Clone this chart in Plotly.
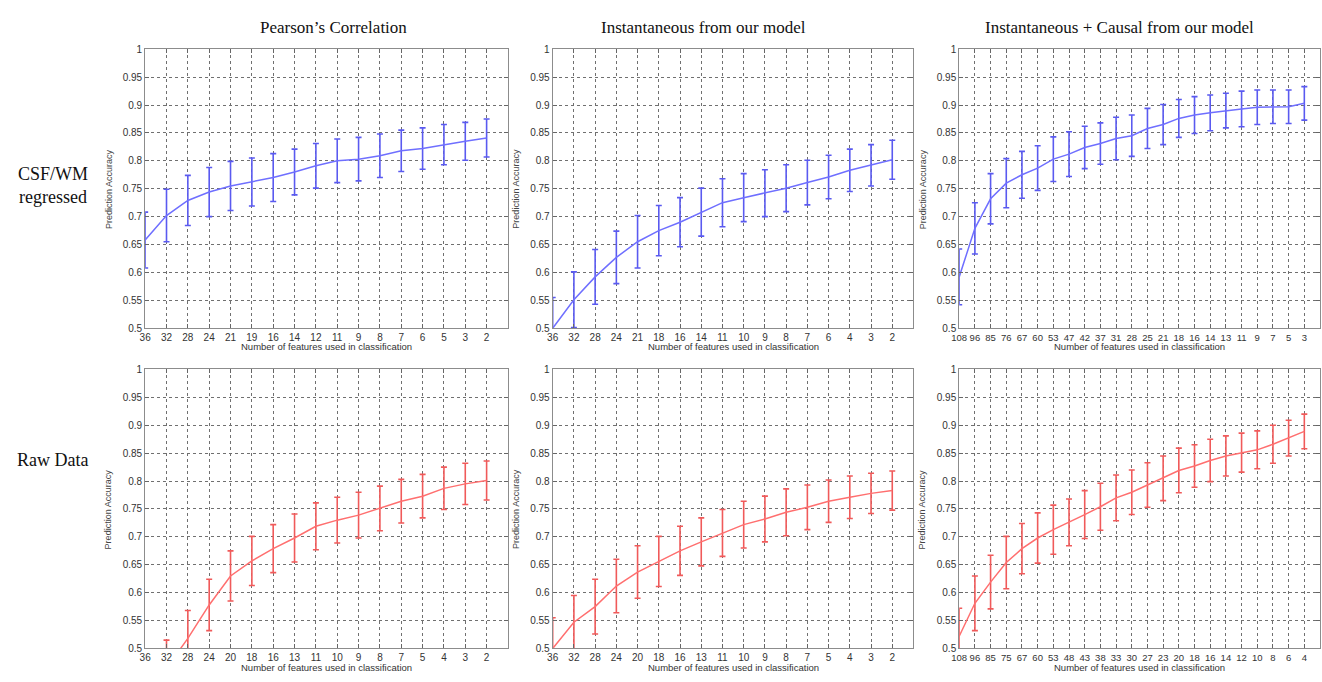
import plotly.graph_objects as go

W, H = 1322, 682

col_titles = ["Pearson’s Correlation", "Instantaneous from our model", "Instantaneous + Causal from our model"]
row_titles = ["CSF/WM<br>regressed", "Raw Data"]

# ---- Top row: CSF/WM regressed ----
p1_labels = ["36", "32", "28", "24", "21", "19", "16", "14", "12", "11", "9", "8", "7", "6", "5", "3", "2"]
p1_mean = [0.658, 0.702, 0.729, 0.744, 0.755, 0.762, 0.770, 0.780, 0.791, 0.800, 0.803, 0.809, 0.818, 0.822, 0.829, 0.835, 0.841]
p1_err = [0.050, 0.047, 0.045, 0.044, 0.044, 0.043, 0.043, 0.041, 0.040, 0.039, 0.039, 0.039, 0.037, 0.037, 0.036, 0.034, 0.034]

p2_labels = ["36", "32", "28", "24", "21", "18", "16", "14", "11", "10", "9", "8", "7", "6", "4", "3", "2"]
p2_mean = [0.500, 0.551, 0.592, 0.627, 0.655, 0.675, 0.690, 0.708, 0.725, 0.734, 0.742, 0.751, 0.761, 0.771, 0.783, 0.792, 0.802]
p2_err = [0.055, 0.050, 0.049, 0.047, 0.047, 0.045, 0.044, 0.043, 0.043, 0.043, 0.042, 0.042, 0.040, 0.039, 0.038, 0.037, 0.035]

p3_labels = ["108", "96", "85", "76", "67", "60", "53", "47", "42", "37", "31", "28", "25", "21", "18", "16", "14", "13", "11", "9", "7", "5", "3"]
p3_mean = [0.592, 0.679, 0.732, 0.760, 0.775, 0.787, 0.803, 0.812, 0.824, 0.831, 0.840, 0.845, 0.858, 0.865, 0.876, 0.882, 0.886, 0.890, 0.893, 0.896, 0.897, 0.897, 0.903]
p3_err = [0.050, 0.046, 0.045, 0.044, 0.042, 0.040, 0.040, 0.040, 0.038, 0.037, 0.038, 0.037, 0.036, 0.036, 0.034, 0.033, 0.032, 0.031, 0.032, 0.031, 0.030, 0.030, 0.030]

# ---- Bottom row: Raw Data ----
p4_labels = ["36", "32", "28", "24", "20", "18", "16", "13", "11", "10", "9", "8", "7", "5", "4", "3", "2"]
p4_mean = [0.420, 0.465, 0.518, 0.578, 0.630, 0.657, 0.679, 0.698, 0.719, 0.730, 0.739, 0.751, 0.764, 0.773, 0.787, 0.795, 0.801]
p4_err = [0.050, 0.050, 0.050, 0.046, 0.045, 0.044, 0.043, 0.043, 0.042, 0.041, 0.041, 0.040, 0.039, 0.039, 0.038, 0.037, 0.035]

p5_labels = ["36", "32", "28", "24", "20", "18", "16", "13", "11", "10", "9", "8", "7", "5", "4", "3", "2"]
p5_mean = [0.500, 0.547, 0.575, 0.612, 0.637, 0.656, 0.675, 0.691, 0.707, 0.722, 0.732, 0.744, 0.753, 0.764, 0.771, 0.778, 0.783]
p5_err = [0.055, 0.048, 0.049, 0.048, 0.047, 0.045, 0.044, 0.043, 0.042, 0.042, 0.041, 0.042, 0.040, 0.038, 0.038, 0.036, 0.035]

p6_labels = ["108", "96", "85", "75", "67", "60", "53", "48", "43", "38", "33", "30", "27", "23", "20", "18", "16", "14", "12", "10", "8", "6", "4"]
p6_mean = [0.522, 0.581, 0.619, 0.654, 0.679, 0.698, 0.713, 0.726, 0.740, 0.754, 0.770, 0.780, 0.793, 0.805, 0.819, 0.827, 0.837, 0.845, 0.851, 0.856, 0.866, 0.877, 0.889]
p6_err = [0.050, 0.049, 0.048, 0.047, 0.045, 0.045, 0.044, 0.042, 0.043, 0.042, 0.041, 0.040, 0.040, 0.040, 0.040, 0.038, 0.038, 0.036, 0.035, 0.034, 0.034, 0.032, 0.031]

y_tickvals = [0.5, 0.55, 0.6, 0.65, 0.7, 0.75, 0.8, 0.85, 0.9, 0.95, 1.0]
y_ticktext = ["0.5", "0.55", "0.6", "0.65", "0.7", "0.75", "0.8", "0.85", "0.9", "0.95", "1"]

x_title = "Number of features used in classification"
y_title = "Prediction Accuracy"

panels = [
    (p1_labels, p1_mean, p1_err, 0, 0),
    (p2_labels, p2_mean, p2_err, 0, 1),
    (p3_labels, p3_mean, p3_err, 0, 2),
    (p4_labels, p4_mean, p4_err, 1, 0),
    (p5_labels, p5_mean, p5_err, 1, 1),
    (p6_labels, p6_mean, p6_err, 1, 2),
]

# pixel geometry of plot areas
col_px = [(138, 503), (548, 911), (957, 1320)]
row_px = [(44, 328), (370, 654)]
line_colors = ["#6f6fff", "#ff6f6f"]
bar_colors = ["#5a5af0", "#f05a5a"]

fig = go.Figure()
annotations = []

for i, (labels, mean, err, r, c) in enumerate(panels):
    n = len(labels)
    xs = list(range(1, n + 1))
    ax = "" if i == 0 else str(i + 1)
    fig.add_trace(go.Scatter(
        x=xs, y=mean, mode="lines",
        line=dict(color=line_colors[r], width=1.5),
        error_y=dict(type="data", array=err, visible=True, color=bar_colors[r], thickness=1.6, width=3),
        xaxis="x" + ax, yaxis="y" + ax, showlegend=False, hoverinfo="skip",
    ))
    x0, x1 = col_px[c]
    y0, y1 = row_px[r]
    common = dict(showline=True, mirror="ticks", linecolor="#8c8c8c", linewidth=1,
                  ticks="inside", ticklen=4, tickcolor="#666", showgrid=True,
                  gridcolor="#707070", griddash="dot", gridwidth=1, zeroline=False)
    fig.layout["xaxis" + ax] = dict(
        domain=[x0 / W, x1 / W], anchor="y" + ax, range=[1, n + 1],
        tickmode="array", tickvals=xs, ticktext=labels,
        tickfont=dict(family="Liberation Sans", size=10 if c < 2 else 9.5, color="#333"),
        **common)
    fig.layout["yaxis" + ax] = dict(
        domain=[1 - y1 / H, 1 - y0 / H], anchor="x" + ax, range=[0.5, 1.0],
        tickmode="array", tickvals=y_tickvals, ticktext=y_ticktext,
        tickfont=dict(family="Liberation Sans", size=10, color="#333"),
        **common)
    # axis titles
    annotations.append(dict(text=x_title, xref="paper", yref="paper",
                            x=(x0 + x1) / 2 / W, y=1 - (y1 + 19) / H, showarrow=False,
                            font=dict(family="Liberation Sans", size=9.5, color="#333"),
                            xanchor="center", yanchor="middle"))
    annotations.append(dict(text=y_title, xref="paper", yref="paper",
                            x=(x0 - 37) / W, y=1 - (y0 + y1) / 2 / H, showarrow=False, textangle=-90,
                            font=dict(family="Liberation Sans", size=9, color="#444"),
                            xanchor="center", yanchor="middle"))

title_x = [327, 700, 1118]
for c, t in enumerate(col_titles):
    annotations.append(dict(text=t, xref="paper", yref="paper", x=title_x[c] / W, y=1 - 22 / H,
                            showarrow=False, xanchor="center", yanchor="middle",
                            font=dict(family="Liberation Serif", size=17, color="#111")))
row_y = [183, 462]
for r, t in enumerate(row_titles):
    annotations.append(dict(text=t, xref="paper", yref="paper", x=45 / W, y=1 - row_y[r] / H,
                            showarrow=False, xanchor="center", yanchor="middle",
                            font=dict(family="Liberation Serif", size=18, color="#111")))

fig.update_layout(width=W, height=H, margin=dict(l=0, r=0, t=0, b=0),
                  paper_bgcolor="white", plot_bgcolor="white", annotations=annotations)

fig.write_html("out.html", config={"displayModeBar": False},
               post_script="document.body.style.margin='0';document.body.style.overflow='hidden';")
